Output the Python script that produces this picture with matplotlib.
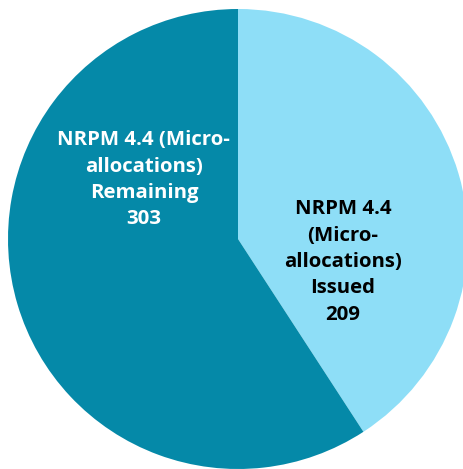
import matplotlib.pyplot as plt

labels = ["NRPM 4.4\n(Micro-\nallocations)\nIssued", "NRPM 4.4 (Micro-\nallocations)\nRemaining"]
values = [209, 303]
colors = ["#8EDEF7", "#0589A8"]
text_colors = ["black", "white"]
label_pos = [(0.457, -0.10), (-0.409, 0.257)]

plt.rcParams['font.family'] = ['Open Sans', 'DejaVu Sans']

fig = plt.figure(figsize=(4.63, 4.69), dpi=100)
ax = fig.add_axes([0, 0, 1, 1])
ax.pie(values, colors=colors, startangle=90, counterclock=False,
       radius=1, wedgeprops={'linewidth': 0})
for lab, v, c, (x, y) in zip(labels, values, text_colors, label_pos):
    ax.text(x, y, f"{lab}\n{v}", ha='center', va='center', color=c,
            fontsize=14.7, fontweight='bold', linespacing=1.42)
ax.set_xlim(-238 / 230, 225 / 230)
ax.set_ylim(-230 / 230, 239 / 230)
ax.set_aspect('auto')
ax.axis('off')
fig.savefig('out.png', dpi=100)
